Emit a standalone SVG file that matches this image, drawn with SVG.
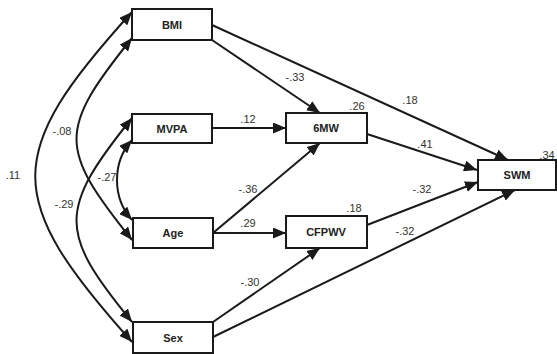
<svg xmlns="http://www.w3.org/2000/svg" width="557" height="354" viewBox="0 0 557 354">
<style>
.box{fill:#fff;stroke:#1a1a1a;stroke-width:2}
.nt{font-family:"Liberation Sans",Arial,sans-serif;font-size:11px;font-weight:bold;fill:#222;text-anchor:middle}
.lb{font-family:"Liberation Sans",Arial,sans-serif;font-size:11px;fill:#333;text-anchor:middle}
.e{fill:none;stroke:#1a1a1a;stroke-width:2}
</style>
<defs>
<marker id="ah" viewBox="0 0 13 11" refX="13" refY="5.5" markerWidth="13" markerHeight="11" markerUnits="userSpaceOnUse" orient="auto-start-reverse">
<path d="M0,0 L13,5.5 L0,11 Z" fill="#1a1a1a"/>
</marker>
</defs>
<rect width="557" height="354" fill="#fff"/>
<g id="connectors">
<path class="e" d="M212,25 L508,160" marker-end="url(#ah)"/>
<path class="e" d="M212,40 L320,113" marker-end="url(#ah)"/>
<path class="e" d="M212,128 L286,128" marker-end="url(#ah)"/>
<path class="e" d="M367,134 L477,170" marker-end="url(#ah)"/>
<path class="e" d="M213,233 L320,143" marker-end="url(#ah)"/>
<path class="e" d="M213,233 L286,233" marker-end="url(#ah)"/>
<path class="e" d="M367,225 L478,182" marker-end="url(#ah)"/>
<path class="e" d="M213,322 L320,248" marker-end="url(#ah)"/>
<path class="e" d="M213,337 L515,190" marker-end="url(#ah)"/>
<path class="e" d="M132,12 C3,154 3,198 132,342" marker-start="url(#ah)" marker-end="url(#ah)"/>
<path class="e" d="M132,38 C58,130 58,148 132,240" marker-start="url(#ah)" marker-end="url(#ah)"/>
<path class="e" d="M132,118 C58,210 58,232 132,322" marker-start="url(#ah)" marker-end="url(#ah)"/>
<path class="e" d="M132,140 C112,162 112,198 132,220" marker-start="url(#ah)" marker-end="url(#ah)"/>
<text class="lb" x="295" y="81">-.33</text>
<text class="lb" x="410" y="104">.18</text>
<text class="lb" x="357" y="110">.26</text>
<text class="lb" x="248" y="123">.12</text>
<text class="lb" x="425" y="148">.41</text>
<text class="lb" x="547" y="159">.34</text>
<text class="lb" x="248" y="193">-.36</text>
<text class="lb" x="248" y="227">.29</text>
<text class="lb" x="354" y="212">.18</text>
<text class="lb" x="422" y="193">-.32</text>
<text class="lb" x="405" y="235">-.32</text>
<text class="lb" x="250" y="286">-.30</text>
<text class="lb" x="13" y="179">.11</text>
<text class="lb" x="62" y="135">-.08</text>
<text class="lb" x="107" y="181">-.27</text>
<text class="lb" x="64" y="208">-.29</text>
</g>
<g id="BMI"><rect class="box" x="132" y="9" width="80" height="31"/><text class="nt" x="172" y="29">BMI</text></g>
<g id="MVPA"><rect class="box" x="132" y="114" width="80" height="29"/><text class="nt" x="172" y="133">MVPA</text></g>
<g id="Age"><rect class="box" x="133" y="218" width="80" height="30"/><text class="nt" x="173" y="237">Age</text></g>
<g id="Sex"><rect class="box" x="133" y="322" width="80" height="31"/><text class="nt" x="173" y="342">Sex</text></g>
<g id="SixMW"><rect class="box" x="286" y="113" width="81" height="30"/><text class="nt" x="326" y="132">6MW</text></g>
<g id="CFPWV"><rect class="box" x="286" y="216" width="81" height="32"/><text class="nt" x="326" y="236">CFPWV</text></g>
<g id="SWM"><rect class="box" x="478" y="160" width="78" height="30"/><text class="nt" x="517" y="179">SWM</text></g>
</svg>
